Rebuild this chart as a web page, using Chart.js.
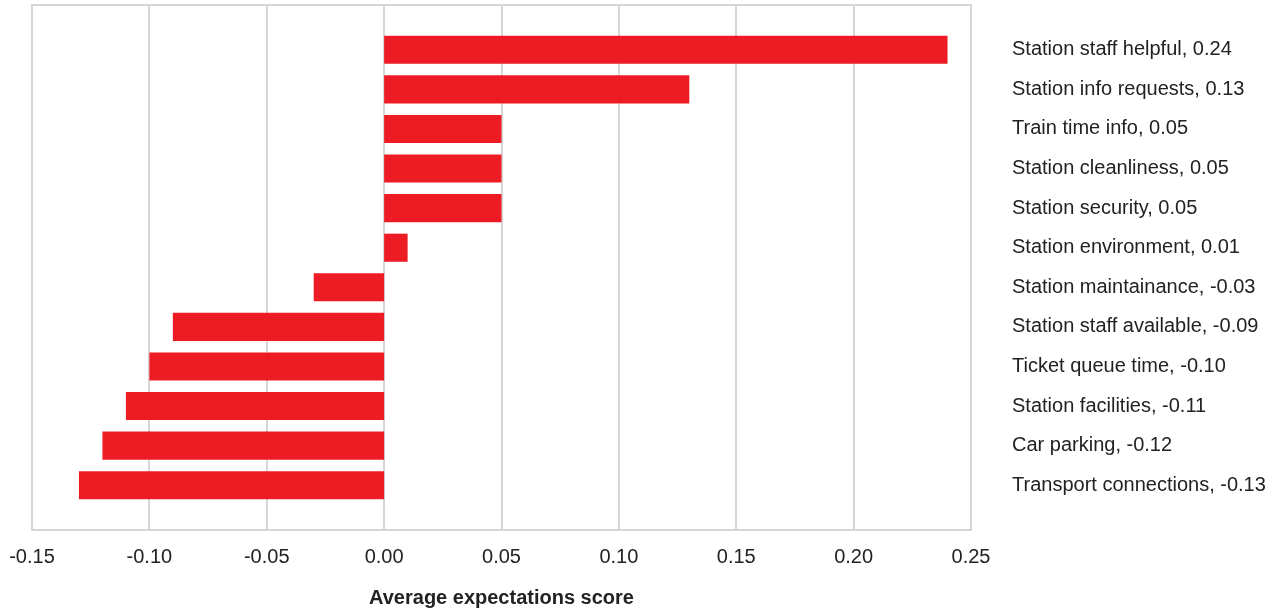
<!DOCTYPE html>
<html>
<head>
<meta charset="utf-8">
<script src="https://cdn.jsdelivr.net/npm/chart.js@4/dist/chart.umd.min.js"></script>
<style>
  html, body { margin: 0; padding: 0; background: #ffffff; }
  #wrap { position: relative; width: 1279px; height: 610px; }
</style>
</head>
<body>
<div id="wrap"><canvas id="c" width="1279" height="610"></canvas></div>
<script>
const categories = [
  "Station staff helpful",
  "Station info requests",
  "Train time info",
  "Station cleanliness",
  "Station security",
  "Station environment",
  "Station maintainance",
  "Station staff available",
  "Ticket queue time",
  "Station facilities",
  "Car parking",
  "Transport connections"
];
const scores = [0.24, 0.13, 0.05, 0.05, 0.05, 0.01, -0.03, -0.09, -0.10, -0.11, -0.12, -0.13];
const xMin = -0.15, xMax = 0.25, xStep = 0.05;
const xTitle = "Average expectations score";

const labels = categories.map((c, i) => c + ", " + scores[i].toFixed(2));

const FONT = "'Liberation Sans', Arial, Helvetica, sans-serif";
const GRID = "#d6d6d6";
const EXT = 25;

function zeroPad(scale) {
  scale.paddingLeft = 0; scale.paddingRight = 0;
  scale.paddingTop = 0; scale.paddingBottom = 0;
}

const framePlugin = {
  id: 'frame',
  beforeDatasetsDraw(chart) {
    const { ctx, chartArea, scales } = chart;
    const top = chartArea.top - EXT, bottom = chartArea.bottom + EXT;
    ctx.save();
    ctx.strokeStyle = GRID;
    ctx.lineWidth = 2;
    scales.x.ticks.forEach(t => {
      const x = Math.round(scales.x.getPixelForValue(t.value));
      ctx.beginPath();
      ctx.moveTo(x, top);
      ctx.lineTo(x, bottom);
      ctx.stroke();
    });
    ctx.beginPath();
    ctx.moveTo(chartArea.left - 1, top);
    ctx.lineTo(chartArea.right + 1, top);
    ctx.moveTo(chartArea.left - 1, bottom);
    ctx.lineTo(chartArea.right + 1, bottom);
    ctx.stroke();
    ctx.restore();
  }
};

new Chart(document.getElementById('c'), {
  type: 'bar',
  data: {
    labels: labels,
    datasets: [{
      data: scores,
      backgroundColor: '#ED1C24',
      borderWidth: 0,
      barPercentage: 0.71,
      categoryPercentage: 1.0
    }]
  },
  options: {
    indexAxis: 'y',
    responsive: false,
    animation: false,
    devicePixelRatio: 1,
    layout: { padding: { top: 30, left: 32, right: 0, bottom: 0 } },
    plugins: { legend: { display: false }, tooltip: { enabled: false } },
    scales: {
      x: {
        type: 'linear',
        min: xMin,
        max: xMax,
        ticks: {
          stepSize: xStep,
          padding: 40,
          color: '#222222',
          font: { family: FONT, size: 20 },
          callback: v => Number(v).toFixed(2)
        },
        grid: { display: false, drawTicks: false },
        border: { display: false },
        title: {
          display: true,
          text: xTitle,
          color: '#222222',
          font: { family: FONT, size: 20, weight: 'bold' },
          padding: { top: 0, bottom: 0 }
        },
        afterFit(scale) { scale.height = 105; zeroPad(scale); }
      },
      y: {
        type: 'category',
        position: 'right',
        ticks: {
          padding: 41,
          color: '#222222',
          font: { family: FONT, size: 20 }
        },
        grid: { display: false, drawTicks: false },
        border: { display: false },
        afterFit(scale) { scale.width = 308; zeroPad(scale); }
      }
    }
  },
  plugins: [framePlugin]
});
</script>
</body>
</html>
